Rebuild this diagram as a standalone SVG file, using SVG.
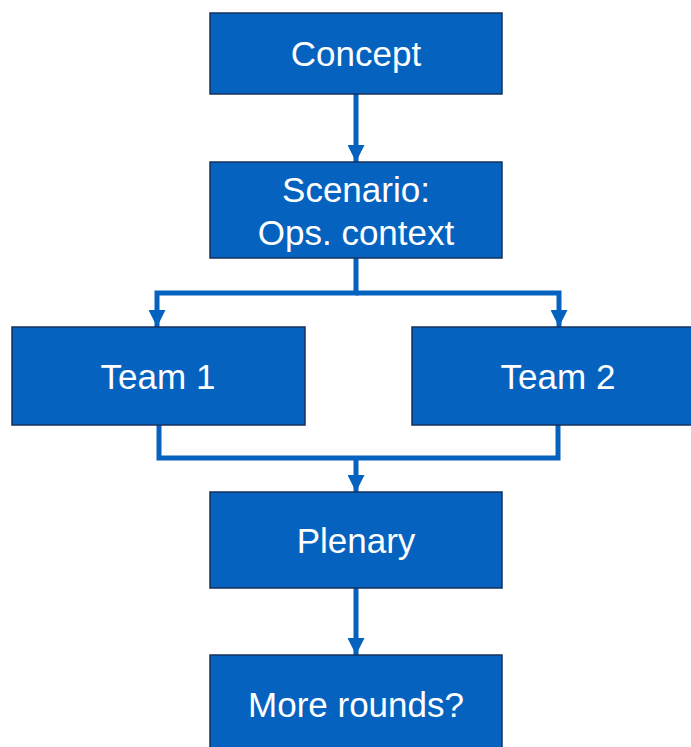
<svg xmlns="http://www.w3.org/2000/svg" width="691" height="747" viewBox="0 0 691 747">
<style>
.box{fill:#0563BF;stroke:#16325C;stroke-width:1.5}
.lbl{fill:#FFFFFF;font-family:"Liberation Sans",Arial,sans-serif;font-size:35px;text-anchor:middle}
.con{fill:none;stroke:#0563BF;stroke-width:5}
</style>
<defs>
<marker id="ah" viewBox="0 0 10 10" refX="10" refY="5" markerUnits="userSpaceOnUse" markerWidth="17" markerHeight="17" orient="auto">
<path d="M0,0 L10,5 L0,10 z" fill="#0563BF"/>
</marker>
</defs>
<rect width="691" height="747" fill="#FFFFFF"/>
<g id="connectors">
<path class="con" d="M356,94 V162" marker-end="url(#ah)"/>
<path class="con" d="M356,258 V293 H157 V327" marker-end="url(#ah)"/>
<path class="con" d="M356,293 H559 V327" marker-end="url(#ah)"/>
<path class="con" d="M159,425 V458 H558 V425"/>
<path class="con" d="M356,458 V492" marker-end="url(#ah)"/>
<path class="con" d="M356,588 V655" marker-end="url(#ah)"/>
</g>
<g id="concept">
<rect class="box" x="210" y="13" width="292" height="81"/>
<text class="lbl" x="356" y="66">Concept</text>
</g>
<g id="scenario">
<rect class="box" x="210" y="162" width="292" height="96"/>
<text class="lbl" x="356" y="202">Scenario:</text>
<text class="lbl" x="356" y="245">Ops. context</text>
</g>
<g id="team1">
<rect class="box" x="12" y="327" width="293" height="98"/>
<text class="lbl" x="158" y="389">Team 1</text>
</g>
<g id="team2">
<rect class="box" x="412" y="327" width="290" height="98"/>
<text class="lbl" x="558" y="389">Team 2</text>
</g>
<g id="plenary">
<rect class="box" x="210" y="492" width="292" height="96"/>
<text class="lbl" x="356" y="553">Plenary</text>
</g>
<g id="more-rounds">
<rect class="box" x="210" y="655" width="292" height="100"/>
<text class="lbl" x="356" y="717">More rounds?</text>
</g>
</svg>
